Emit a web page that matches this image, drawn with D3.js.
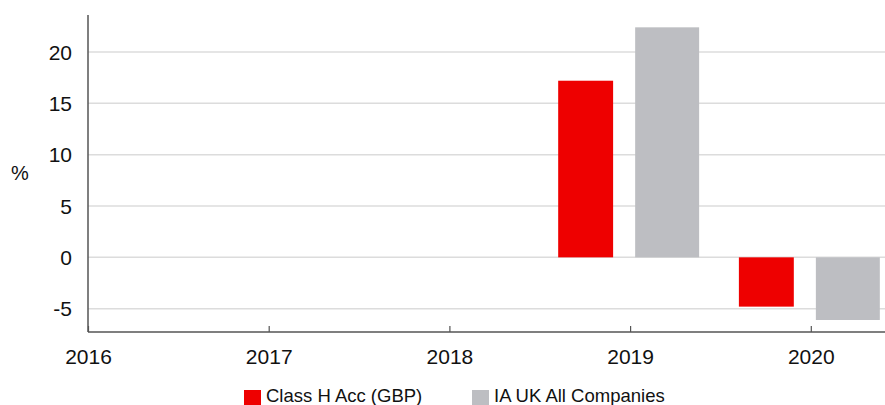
<!DOCTYPE html>
<html>
<head>
<meta charset="utf-8">
<script src="https://cdn.jsdelivr.net/npm/d3@7"></script>
<style>
  body { margin: 0; background: #fff; }
  svg { display: block; font-family: Arial, "Liberation Sans", sans-serif; }
</style>
</head>
<body>
<div id="viz"><svg></svg></div>
<script>
const fullWidth = 885;
const fullHeight = 405;

// data
const years = [2019, 2020];
const classH = [17.2, -4.8];
const sector = [22.4, -6.1];
const seriesNames = ['Class H Acc (GBP)', 'IA UK All Companies'];
const seriesColors = ['#ee0000', '#bdbec2'];
const yTicks = [-5, 0, 5, 10, 15, 20];
const xTicks = [2016, 2017, 2018, 2019, 2020];

const margin = { top: 15, left: 88, bottom: 73 };
const plotBottom = fullHeight - margin.bottom;

const svg = d3.select('#viz svg')
  .attr('width', fullWidth)
  .attr('height', fullHeight);

const x = d3.scaleLinear().domain([2016, 2020]).range([margin.left, 810.8]);
const y = d3.scaleLinear().domain([-7.27, 23.6]).range([plotBottom, margin.top]);

// gridlines
svg.append('g')
  .selectAll('line')
  .data(yTicks)
  .enter().append('line')
  .attr('x1', margin.left)
  .attr('x2', fullWidth)
  .attr('y1', d => y(d))
  .attr('y2', d => y(d))
  .attr('stroke', '#dcdcdc')
  .attr('stroke-width', 1.5);

// y labels
svg.append('g')
  .selectAll('text')
  .data(yTicks)
  .enter().append('text')
  .attr('x', margin.left - 16)
  .attr('y', d => y(d))
  .attr('dy', '0.36em')
  .attr('text-anchor', 'end')
  .attr('font-size', 21)
  .attr('fill', '#111')
  .text(d => d);

svg.append('text')
  .attr('x', 20)
  .attr('y', 180)
  .attr('text-anchor', 'middle')
  .attr('font-size', 20)
  .attr('fill', '#111')
  .text('%');

// bars: offsets in years around each tick
const barSpan = [[-0.398, -0.094], [0.028, 0.382]];
const bars = [];
years.forEach((yr, i) => {
  [classH[i], sector[i]].forEach((v, s) => {
    bars.push({ year: yr, value: v, s: s });
  });
});

svg.append('g')
  .selectAll('rect')
  .data(bars)
  .enter().append('rect')
  .attr('x', d => x(d.year + barSpan[d.s][0]))
  .attr('width', d => x(d.year + barSpan[d.s][1]) - x(d.year + barSpan[d.s][0]))
  .attr('y', d => y(Math.max(0, d.value)))
  .attr('height', d => Math.abs(y(d.value) - y(0)))
  .attr('fill', d => seriesColors[d.s]);

// axes
const xAxis = d3.axisBottom(x)
  .tickValues(xTicks)
  .tickFormat(d3.format('d'))
  .tickSizeInner(-6)
  .tickSizeOuter(0)
  .tickPadding(17);

const gx = svg.append('g')
  .attr('transform', `translate(0,${plotBottom})`)
  .call(xAxis);
gx.select('.domain').remove();
gx.selectAll('.tick line').attr('stroke', '#555').attr('stroke-width', 1.2);
gx.selectAll('.tick text')
  .attr('font-size', 21)
  .attr('font-family', null)
  .attr('fill', '#111');

svg.append('line')
  .attr('x1', margin.left).attr('x2', fullWidth)
  .attr('y1', plotBottom).attr('y2', plotBottom)
  .attr('stroke', '#555').attr('stroke-width', 1.5);

svg.append('line')
  .attr('x1', margin.left).attr('x2', margin.left)
  .attr('y1', margin.top).attr('y2', plotBottom)
  .attr('stroke', '#555').attr('stroke-width', 1.5);

// legend
const legendX = [244, 472];
const legend = svg.append('g')
  .selectAll('g')
  .data(seriesNames)
  .enter().append('g')
  .attr('transform', (d, i) => `translate(${legendX[i]},390)`);

legend.append('rect')
  .attr('width', 17)
  .attr('height', 15)
  .attr('fill', (d, i) => seriesColors[i]);

legend.append('text')
  .attr('x', 22)
  .attr('y', 12)
  .attr('font-size', 18.5)
  .attr('fill', '#111')
  .text(d => d);
</script>
</body>
</html>
